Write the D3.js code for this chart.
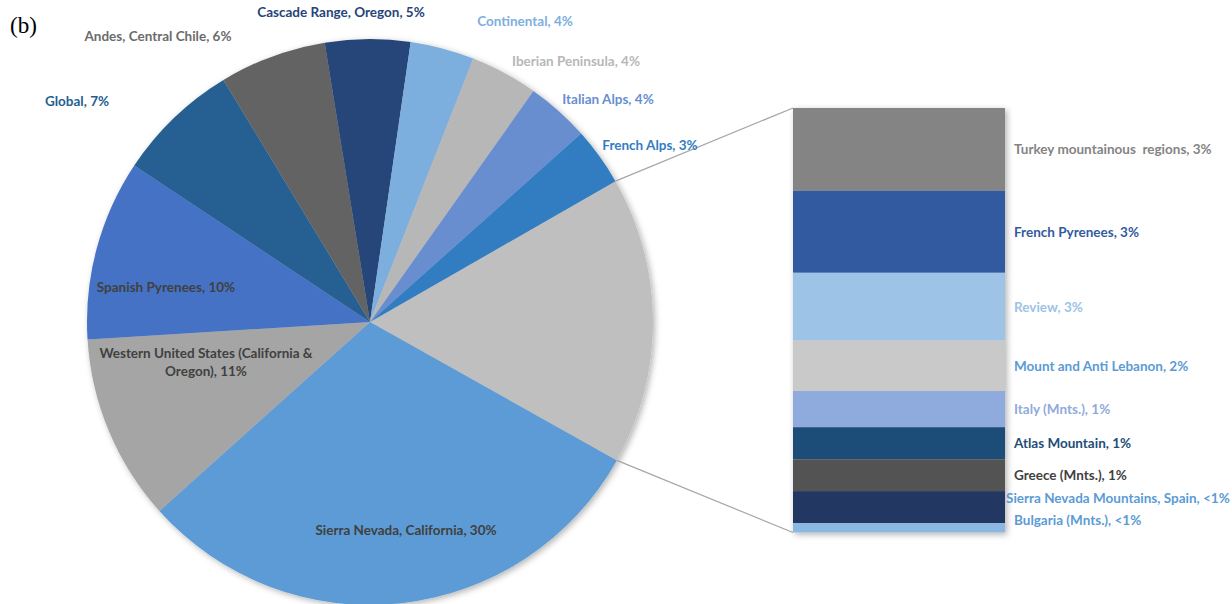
<!DOCTYPE html>
<html>
<head>
<meta charset="utf-8">
<script src="https://cdn.jsdelivr.net/npm/d3@7"></script>
<style>
  body { margin: 0; background: #fff; }
  svg { display: block; }
  .lbl { font-family: Lato, "Open Sans", sans-serif; font-weight: bold; font-size: 13.5px; }
</style>
</head>
<body>
<svg id="chart" width="1232" height="604"></svg>
<script>
// main pie (percent of total), clockwise starting at the "Other" slice
var pieNames = ['Other', 'Sierra Nevada, California', 'Western United States (California & Oregon)',
  'Spanish Pyrenees', 'Global', 'Andes, Central Chile', 'Cascade Range, Oregon',
  'Continental', 'Iberian Peninsula', 'Italian Alps', 'French Alps'];
var pieValues = [null, 30.2, 10.65, 10.3, 7.0, 6.1, 4.85, 3.65, 3.85, 3.6, 3.3];
var pieLabels = [null, ['Sierra Nevada, California, 30%'],
  ['Western United States (California &', 'Oregon), 11%'],
  ['Spanish Pyrenees, 10%'], ['Global, 7%'], ['Andes, Central Chile, 6%'],
  ['Cascade Range, Oregon, 5%'], ['Continental, 4%'], ['Iberian Peninsula, 4%'],
  ['Italian Alps, 4%'], ['French Alps, 3%']];

// the "Other" slice broken out in the bar
var barNames = ['Turkey mountainous regions', 'French Pyrenees', 'Review', 'Mount and Anti Lebanon',
  'Italy (Mnts.)', 'Atlas Mountain', 'Greece (Mnts.)', 'Sierra Nevada Mountains, Spain', 'Bulgaria (Mnts.)'];
var barValues = [3.2, 3.17, 2.62, 1.95, 1.40, 1.24, 1.23, 1.24, 0.36];
var barLabels = ['Turkey mountainous  regions, 3%', 'French Pyrenees, 3%', 'Review, 3%',
  'Mount and Anti Lebanon, 2%', 'Italy (Mnts.), 1%', 'Atlas Mountain, 1%', 'Greece (Mnts.), 1%',
  'Sierra Nevada Mountains, Spain, <1%', 'Bulgaria (Mnts.), <1%'];

pieValues[0] = d3.sum(barValues);

var pieColors = ['#bfbfbf', '#5b9bd5', '#a5a5a5', '#4472c4', '#255e91', '#636363',
  '#264478', '#7cafdd', '#b7b7b7', '#698ed0', '#327dc2'];
var pieTextColors = [null, '#404040', '#404040', '#404040', '#255e91', '#6b6b6b',
  '#264478', '#7cafdd', '#b7b7b7', '#698ed0', '#327dc2'];
var barColors = ['#848484', '#335aa1', '#9dc3e6', '#c9c9c9', '#8faadc', '#1f4e79',
  '#525252', '#203864', '#8ab8e2'];
var barTextColors = ['#848484', '#335aa1', '#9dc3e6', '#5b9bd5', '#8faadc', '#1f4e79',
  '#404040', '#5b9bd5', '#5b9bd5'];

// label anchors (centre of text) as placed by the original best-fit layout
var labelAt = [null, [406, 530], [206, 353], [166, 287], [77, 101], [158, 36],
  [341, 12], [525, 21], [576, 61], [608, 99], [650, 145]];
var barLabelNudge = [[0,0],[0,0],[0,0],[0,0],[0,0],[0,0],[0,0],[-8,-9.5],[0,-8]];

var cx = 370, cy = 322, R = 283;
var startDeg = 60.15;
var bar = {x: 793, w: 212, top: 108, bottom: 532.5};

var svg = d3.select('#chart');

var defs = svg.append('defs');
var f = defs.append('filter').attr('id', 'shadow')
  .attr('x', '-10%').attr('y', '-10%').attr('width', '120%').attr('height', '120%');
f.append('feDropShadow').attr('dx', 2).attr('dy', 2).attr('stdDeviation', 3)
  .attr('flood-color', '#000').attr('flood-opacity', 0.3);

svg.append('text')
  .attr('x', 10).attr('y', 33)
  .style('font-family', '"Liberation Serif", "Times New Roman", serif')
  .style('font-size', '23px')
  .text('(b)');

var toRad = Math.PI / 180;
var pie = d3.pie().sort(null).value(function(d){ return d; })
  .startAngle(startDeg * toRad).endAngle(startDeg * toRad + 2 * Math.PI);
var arcs = pie(pieValues);
var arc = d3.arc().innerRadius(0).outerRadius(R);

var pieG = svg.append('g').attr('transform', 'translate(' + cx + ',' + cy + ')');

pieG.append('g').attr('filter', 'url(#shadow)')
  .selectAll('path')
  .data(arcs).enter()
  .append('path')
  .attr('d', arc)
  .attr('fill', function(d, i){ return pieColors[i]; });

// connector lines from the "Other" slice to the bar
var other = arcs[0];
var y = d3.scaleLinear().domain([0, d3.sum(barValues)]).range([bar.top, bar.bottom]);

function rimPoint(a) {
  return [cx + R * Math.sin(a), cy - R * Math.cos(a)];
}
var p0 = rimPoint(other.startAngle), p1 = rimPoint(other.endAngle);
svg.append('line')
  .attr('x1', p0[0]).attr('y1', p0[1]).attr('x2', bar.x).attr('y2', y(0))
  .attr('stroke', '#a6a6a6').attr('stroke-width', 1.2);
svg.append('line')
  .attr('x1', p1[0]).attr('y1', p1[1]).attr('x2', bar.x).attr('y2', y(d3.sum(barValues)))
  .attr('stroke', '#a6a6a6').attr('stroke-width', 1.2);

// stacked bar
var cum = 0;
var segs = barValues.map(function(v, i){
  var s = {i: i, y0: cum, y1: cum + v};
  cum += v;
  return s;
});

svg.append('g').attr('filter', 'url(#shadow)')
  .selectAll('rect')
  .data(segs).enter()
  .append('rect')
  .attr('x', bar.x)
  .attr('width', bar.w)
  .attr('y', function(d){ return y(d.y0); })
  .attr('height', function(d){ return y(d.y1) - y(d.y0); })
  .attr('fill', function(d){ return barColors[d.i]; });

svg.append('g').selectAll('text')
  .data(segs).enter()
  .append('text')
  .attr('class', 'lbl')
  .attr('x', function(d){ return bar.x + bar.w + 9 + barLabelNudge[d.i][0]; })
  .attr('y', function(d){ return y((d.y0 + d.y1) / 2) + barLabelNudge[d.i][1]; })
  .attr('dominant-baseline', 'central')
  .attr('fill', function(d){ return barTextColors[d.i]; })
  .style('white-space', 'pre')
  .text(function(d){ return barLabels[d.i]; });

// pie labels
arcs.forEach(function(d, i){
  if (!pieLabels[i]) return;
  var lines = pieLabels[i];
  var t = svg.append('text')
    .attr('class', 'lbl')
    .attr('text-anchor', 'middle')
    .attr('fill', pieTextColors[i]);
  lines.forEach(function(s, k){
    t.append('tspan')
      .attr('x', labelAt[i][0])
      .attr('y', labelAt[i][1] + k * 17.5)
      .attr('dominant-baseline', 'central')
      .text(s);
  });
});
</script>
</body>
</html>
